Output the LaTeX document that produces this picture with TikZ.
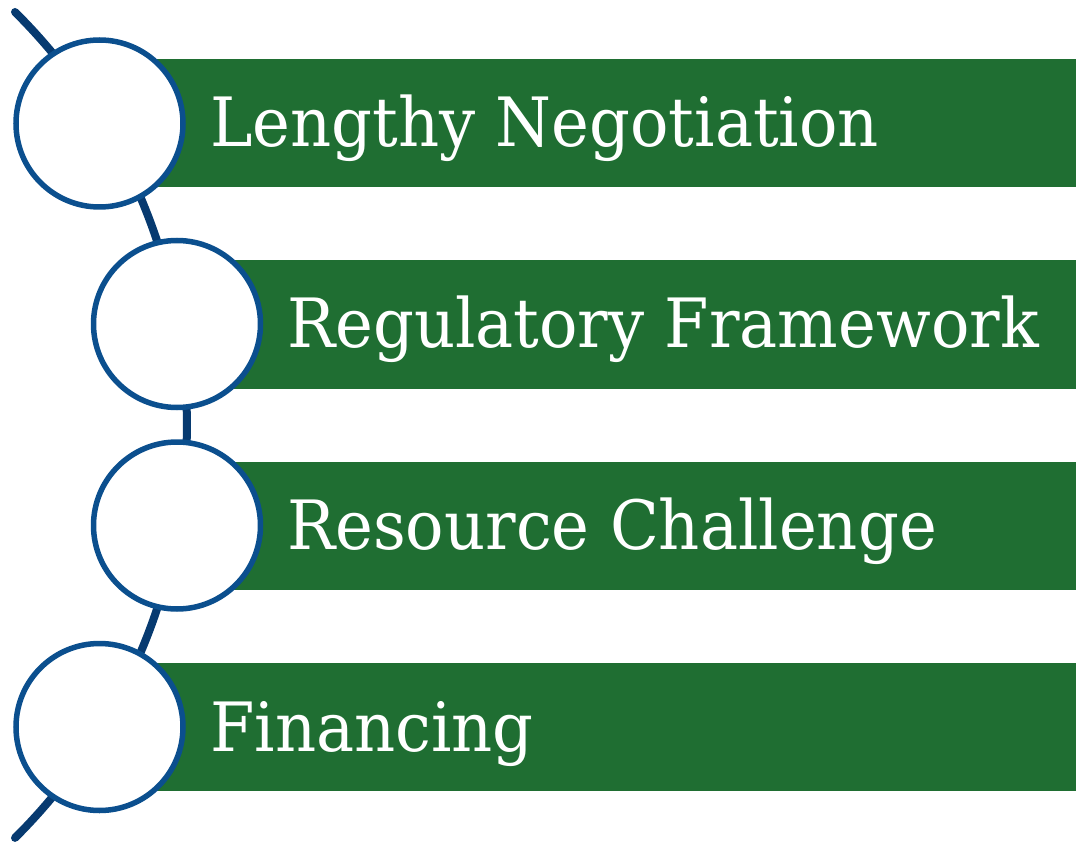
\documentclass[tikz,border=0pt]{standalone}
\usepackage{fontspec}
\setmainfont[FakeStretch=0.94]{DejaVu Serif}
\definecolor{bargreen}{HTML}{1F6E32}
\definecolor{ringblue}{HTML}{0B4F8E}
\definecolor{linenavy}{HTML}{073A70}
\begin{document}
\begin{tikzpicture}[x=1pt,y=-1pt,
  bar/.style={fill=bargreen,draw=none},
  ring/.style={circle,draw=ringblue,line width=5.5pt,fill=white,minimum size=167pt,inner sep=0pt},
  label/.style={anchor=base west,text=white,inner sep=0pt,font=\fontsize{68}{72}\selectfont},
  spine/.style={draw=linenavy,line width=8pt,line cap=round}]
\useasboundingbox (0,0) rectangle (1076,842);
\coordinate (top) at (15,12);
\coordinate (bot) at (15,838);
\draw[spine] (top) arc[start angle=45.2,end angle=-45.2,radius=582pt];
% bars
\fill[bar] (100,59) rectangle (1076,187);
\fill[bar] (177,260) rectangle (1076,389);
\fill[bar] (177,462) rectangle (1076,590);
\fill[bar] (100,663) rectangle (1076,791);
% circles
\node[ring] (c1) at (99.5,123.5) {};
\node[ring] (c2) at (177,324) {};
\node[ring] (c3) at (177,525.5) {};
\node[ring] (c4) at (99.5,727) {};
% labels
\node[label] (t1) at (210,147) {Lengthy Negotiation};
\node[label] (t2) at (287,347) {Regulatory Framework};
\node[label] (t3) at (287,549) {Resource Challenge};
\node[label] (t4) at (210,751) {Financing};
\end{tikzpicture}
\end{document}
